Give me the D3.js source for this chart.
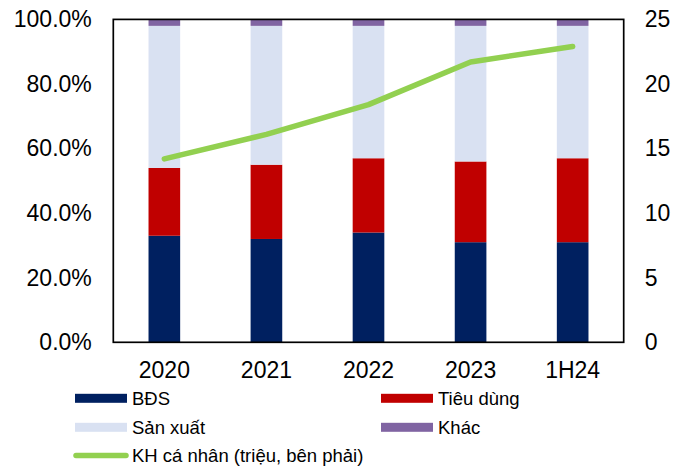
<!DOCTYPE html>
<html>
<head>
<meta charset="utf-8">
<script src="https://cdn.jsdelivr.net/npm/d3@7"></script>
<style>
  html, body { margin: 0; padding: 0; background: #fff; }
  svg { display: block; font-family: Arial, "Liberation Sans", sans-serif; }
</style>
</head>
<body>
<svg id="chart" width="686" height="467"></svg>
<script>
const categories = ["2020", "2021", "2022", "2023", "1H24"];
const bds      = [33, 32, 34, 31, 31];
const tieuDung = [21, 23, 23, 25, 26];
const sanXuat  = [44, 43, 41, 42, 41];
const khac     = [2, 2, 2, 2, 2];
const khCaNhan = [14.2, 16.1, 18.4, 21.7, 22.9];
const leftTicks  = [0, 20, 40, 60, 80, 100];
const rightTicks = [0, 5, 10, 15, 20, 25];

const seriesNames  = ["BĐS", "Tiêu dùng", "Sản xuất", "Khác"];
const seriesColors = ["#002060", "#C00000", "#D9E1F2", "#8064A2"];
const lineName  = "KH cá nhân (triệu, bên phải)";
const lineColor = "#92D050";

const svg = d3.select("#chart");
const plot = { left: 113.3, right: 623.7, top: 19.4, bottom: 342.3 };

const x = d3.scaleBand().domain(categories)
  .range([plot.left, plot.right]).paddingInner(0.69).paddingOuter(0.345);
const y = d3.scaleLinear().domain([0, 100]).range([plot.bottom, plot.top]);
const y2 = d3.scaleLinear().domain([0, 25]).range([plot.bottom, plot.top]);

const table = categories.map((c, i) => ({
  cat: c, "BĐS": bds[i], "Tiêu dùng": tieuDung[i], "Sản xuất": sanXuat[i], "Khác": khac[i]
}));
const stacked = d3.stack().keys(seriesNames)(table);

// bars
svg.append("g").selectAll("g").data(stacked).join("g")
  .attr("fill", (d, i) => seriesColors[i])
  .selectAll("rect").data(d => d).join("rect")
  .attr("x", d => x(d.data.cat))
  .attr("width", x.bandwidth())
  .attr("y", d => y(Math.min(100, d[1])))
  .attr("height", d => y(d[0]) - y(Math.min(100, d[1])));

// line
const line = d3.line()
  .x((d, i) => x(categories[i]) + x.bandwidth() / 2)
  .y(d => y2(d));
svg.append("path").datum(khCaNhan)
  .attr("d", line)
  .attr("fill", "none")
  .attr("stroke", lineColor)
  .attr("stroke-width", 5.5)
  .attr("stroke-linecap", "round")
  .attr("stroke-linejoin", "round");

// frame
svg.append("rect")
  .attr("x", plot.left).attr("y", plot.top)
  .attr("width", plot.right - plot.left).attr("height", plot.bottom - plot.top)
  .attr("fill", "none").attr("stroke", "#000").attr("stroke-width", 1.7);

// axes
const fs = 23;
const leftAxis = d3.axisLeft(y).tickValues(leftTicks)
  .tickFormat(d => d.toFixed(1) + "%").tickSize(0).tickPadding(21.5);
const gL = svg.append("g").attr("transform", `translate(${plot.left},0)`).call(leftAxis);
const rightAxis = d3.axisRight(y2).tickValues(rightTicks).tickSize(0).tickPadding(21);
const gR = svg.append("g").attr("transform", `translate(${plot.right},0)`).call(rightAxis);
const bottomAxis = d3.axisBottom(x).tickSize(0).tickPadding(19.5);
const gB = svg.append("g").attr("transform", `translate(0,${plot.bottom})`).call(bottomAxis);
[gL, gR, gB].forEach(g => {
  g.select(".domain").remove();
  g.selectAll("text").attr("font-size", fs).attr("fill", "#000")
    .attr("font-family", "Arial, 'Liberation Sans', sans-serif");
});

// legend
const legendItems = [
  { name: seriesNames[0], color: seriesColors[0], type: "rect", col: 0, row: 0 },
  { name: seriesNames[1], color: seriesColors[1], type: "rect", col: 1, row: 0 },
  { name: seriesNames[2], color: seriesColors[2], type: "rect", col: 0, row: 1 },
  { name: seriesNames[3], color: seriesColors[3], type: "rect", col: 1, row: 1 },
  { name: lineName, color: lineColor, type: "line", col: 0, row: 2 }
];
const colX = [75, 381];
const rowY = [398.3, 427.3, 455.5];
const lg = svg.append("g");
legendItems.forEach(it => {
  const gx = colX[it.col], gy = rowY[it.row];
  if (it.type === "rect") {
    lg.append("rect").attr("x", gx).attr("y", gy - 4.5)
      .attr("width", 52).attr("height", 9).attr("fill", it.color);
  } else {
    lg.append("line").attr("x1", gx + 1).attr("x2", gx + 51)
      .attr("y1", gy).attr("y2", gy)
      .attr("stroke", it.color).attr("stroke-width", 5.5).attr("stroke-linecap", "round");
  }
  lg.append("text").attr("x", gx + 57).attr("y", gy)
    .attr("dy", "0.36em").attr("font-size", 18.5).attr("fill", "#000")
    .text(it.name);
});
</script>
</body>
</html>
